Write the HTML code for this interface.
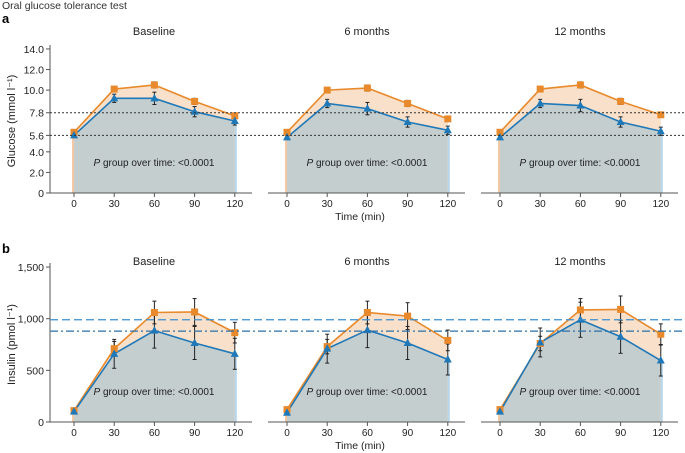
<!DOCTYPE html><html><head><style>body{margin:0;background:#fff}svg{display:block;font-family:"Liberation Sans",sans-serif}</style></head><body>
<svg id="s" width="685" height="453" xmlns="http://www.w3.org/2000/svg"></svg>
<script>
const s=document.getElementById('s');let h='';
h+='<text x="2" y="9" font-size="10.5" fill="#333">Oral glucose tolerance test</text>';
h+='<text x="2" y="23" font-size="13" font-weight="bold">a</text><text x="2" y="253" font-size="13" font-weight="bold">b</text>';
const X0=[74,287,500],titles=['Baseline','6 months','12 months'];
const rows=[
{y0:193,k:10.29,ticks:[[14,'14.0'],[12,'12.0'],[10,'10.0'],[7.8,'7.8'],[5.6,'5.6'],[4,'4.0'],[2,'2.0'],[0,'0']],lab:'Glucose (mmol l⁻¹)',ty:35,xl:220,
 ref:[[7.8,'2 2','#333'],[5.6,'2 2','#333']],
 o:[[5.9,10.1,10.5,8.9,7.5],[5.9,10.0,10.2,8.7,7.2],[5.9,10.1,10.5,8.9,7.6]],
 b:[[5.6,9.2,9.2,7.9,7.0],[5.4,8.7,8.2,6.9,6.1],[5.4,8.7,8.5,6.9,6.0]],eo:[0.2,0.2,0.3,0.3,0.2],eb:[0.2,0.4,0.6,0.5,0.4]},
{y0:422,k:0.1033,ticks:[[1500,'1,500'],[1000,'1,000'],[500,'500'],[0,'0']],lab:'Insulin (pmol l⁻¹)',ty:265,xl:449,
 ref:[[990,'8 4','#3a8fd0'],[880,'8 3 2 3','#2a70a8']],
 o:[[110,710,1060,1065,865],[120,730,1060,1025,790],[120,760,1085,1090,850]],
 b:[[100,660,885,765,660],[90,710,890,765,605],[100,770,990,825,595]],eo:[20,70,110,130,100],eb:[20,140,170,160,150]}];
const dx=40.2;
rows.forEach((r,ri)=>{
 const Y=v=>r.y0-v*r.k;
 h+=`<line x1="50" y1="${Y(r.ticks[0][0])-4}" x2="50" y2="${r.y0}" stroke="#555"/>`;
 r.ticks.forEach(t=>{h+=`<line x1="46" x2="50" y1="${Y(t[0])}" y2="${Y(t[0])}" stroke="#555"/><text x="44" y="${Y(t[0])+4}" font-size="10.5" text-anchor="end" fill="#222">${t[1]}</text>`});
 h+=`<text transform="translate(15,${(Y(r.ticks[0][0])+r.y0)/2}) rotate(-90)" font-size="11" text-anchor="middle" fill="#222">${r.lab}</text>`;
 h+=`<text x="360" y="${r.xl}" font-size="10.5" text-anchor="middle" fill="#222">Time (min)</text>`;
 X0.forEach((x0,p)=>{
  const xs=[0,1,2,3,4].map(i=>x0+i*dx);
  const o=r.o[p],b=r.b[p];
  const po=xs.map((x,i)=>x+','+Y(o[i])).join(' '),pb=xs.map((x,i)=>x+','+Y(b[i])).join(' ');
  h+=`<polygon points="${xs[0]},${r.y0} ${po} ${xs[4]},${r.y0}" fill="#f9e0ca"/>`;
  h+=`<polygon points="${xs[0]},${r.y0} ${pb} ${xs[4]},${r.y0}" fill="#c4cecf"/>`;
  h+=`<rect x="${xs[0]-2}" y="${Y(o[0])}" width="2" height="${r.y0-Y(o[0])}" fill="#f3c9a3"/><rect x="${xs[4]}" y="${Y(b[4])}" width="2" height="${r.y0-Y(b[4])}" fill="#b8d6ea"/>`;
  h+=`<text x="${x0+80}" y="${r.y0-27}" font-size="10" text-anchor="middle" fill="#222"><tspan font-style="italic">P</tspan> group over time: &lt;0.0001</text>`;
  h+=`<text x="${x0+80}" y="${r.ty}" font-size="11" text-anchor="middle" fill="#222">${titles[p]}</text>`;
  const ax0=p==0?50:x0-19;
  h+=`<line x1="${ax0}" x2="${x0+178}" y1="${r.y0}" y2="${r.y0}" stroke="#555"/>`;
  xs.forEach((x,i)=>{h+=`<line x1="${x}" x2="${x}" y1="${r.y0}" y2="${r.y0+4}" stroke="#555"/><text x="${x}" y="${r.y0+14}" font-size="10" text-anchor="middle" fill="#222">${i*30}</text>`});
  h+=`<polyline points="${po}" fill="none" stroke="#e8892b" stroke-width="1.6"/><polyline points="${pb}" fill="none" stroke="#1f78b8" stroke-width="1.6"/>`;
  xs.forEach((x,i)=>{
   [[o[i],r.eo[i]],[b[i],r.eb[i]]].forEach(([v,e])=>{if(i==0)return;h+=`<line x1="${x}" x2="${x}" y1="${Y(v+e)}" y2="${Y(v-e)}" stroke="#222"/><line x1="${x-2}" x2="${x+2}" y1="${Y(v+e)}" y2="${Y(v+e)}" stroke="#222"/><line x1="${x-2}" x2="${x+2}" y1="${Y(v-e)}" y2="${Y(v-e)}" stroke="#222"/>`});
   h+=`<rect x="${x-3.5}" y="${Y(o[i])-3.5}" width="7" height="7" fill="#e8892b"/>`;
   const yb=Y(b[i]);h+=`<polygon points="${x},${yb-4.5} ${x-4},${yb+3} ${x+4},${yb+3}" fill="#1f78b8"/>`;
  });
 });
 r.ref.forEach(([v,d,c])=>{h+=`<line x1="50" x2="685" y1="${Y(v)}" y2="${Y(v)}" stroke="${c}" stroke-width="${ri?1.3:1}" stroke-dasharray="${d}"/>`});
});
s.innerHTML=h;
</script></body></html>
